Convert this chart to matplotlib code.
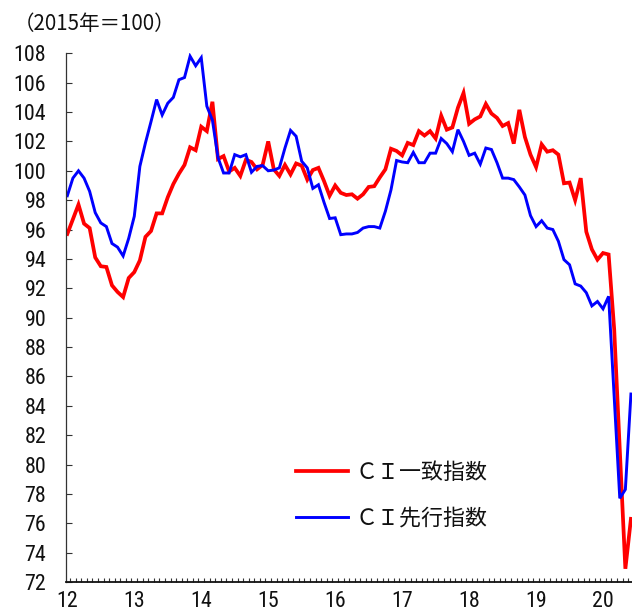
import matplotlib
matplotlib.use('Agg')
import matplotlib.pyplot as plt
from matplotlib import font_manager
from matplotlib.ticker import FixedLocator

# ---- data (monthly, Jan 2012 - Jun 2020, 2015 = 100) ----
year_labels = ['12', '13', '14', '15', '16', '17', '18', '19', '20']

ci_coincident = [
    95.7, 96.7, 97.7, 96.4, 96.1, 94.1, 93.5, 93.45, 92.2, 91.75, 91.4, 92.7,   # 2012
    93.1, 93.9, 95.5, 95.9, 97.1, 97.1, 98.2, 99.1, 99.8, 100.4, 101.6, 101.4,  # 2013
    103.0, 102.7, 104.7, 100.8, 101.0, 99.95, 100.2, 99.65, 100.75, 100.6, 100.1, 100.4,  # 2014
    102.0, 100.1, 99.65, 100.4, 99.75, 100.5, 100.35, 99.4, 100.05, 100.2, 99.3, 98.3,   # 2015
    99.0, 98.5, 98.35, 98.4, 98.1, 98.4, 98.9, 98.95, 99.55, 100.1, 101.5, 101.35,      # 2016
    101.05, 101.9, 101.75, 102.7, 102.4, 102.7, 102.2, 103.75, 102.8, 102.95, 104.3, 105.3,  # 2017
    103.2, 103.5, 103.7, 104.55, 103.9, 103.6, 103.05, 103.25, 101.85, 104.15, 102.3, 101.1,  # 2018
    100.25, 101.8, 101.3, 101.4, 101.1, 99.15, 99.2, 98.0, 99.5, 95.85, 94.65, 93.95,    # 2019
    94.4, 94.3, 89.2, 81.0, 72.9, 76.3,                                              # 2020
]

ci_leading = [
    98.3, 99.5, 100.0, 99.5, 98.6, 97.15, 96.45, 96.2, 95.05, 94.8, 94.2, 95.4,      # 2012
    96.9, 100.3, 101.9, 103.35, 104.85, 103.8, 104.6, 105.0, 106.2, 106.35, 107.8, 107.15,  # 2013
    107.7, 104.4, 103.45, 100.9, 99.85, 99.85, 101.1, 100.95, 101.1, 99.9, 100.3, 100.35,  # 2014
    100.0, 100.05, 100.2, 101.55, 102.75, 102.35, 100.65, 100.2, 98.8, 99.05, 97.85, 96.75,  # 2015
    96.8, 95.65, 95.7, 95.7, 95.8, 96.1, 96.2, 96.2, 96.1, 97.25, 98.7, 100.7,       # 2016
    100.6, 100.55, 101.25, 100.55, 100.55, 101.2, 101.2, 102.2, 101.85, 101.3, 102.8, 102.0,  # 2017
    101.05, 101.2, 100.45, 101.55, 101.45, 100.55, 99.5, 99.5, 99.4, 98.9, 98.35, 96.95,  # 2018
    96.2, 96.6, 96.1, 96.0, 95.2, 93.95, 93.6, 92.3, 92.15, 91.7, 90.8, 91.1,        # 2019
    90.6, 91.45, 84.6, 77.7, 78.3, 84.8,                                             # 2020
]

series_labels = ['ＣＩ一致指数', 'ＣＩ先行指数']
unit_label = '（2015年＝100）'

months = list(range(len(ci_coincident)))
year_pos = [12 * k for k in range(len(year_labels))]

# ---- fonts ----
names = {f.name for f in font_manager.fontManager.ttflist}
num_font, num_size = 'Liberation Sans', 15.0
for cand in ['Liberation Sans Narrow', 'Roboto Condensed', 'Open Sans Condensed']:
    if cand in names:
        num_font, num_size = cand, 15.8
        break
if num_font not in names:
    num_font = 'DejaVu Sans'
jp = ['Noto Sans CJK JP', 'DejaVu Sans']

W, H = 632, 615
fig = plt.figure(figsize=(W / 100, H / 100), dpi=100)
left_px, right_px, top_px, bottom_px = 65.7, 632, 53.3, 582
ax = fig.add_axes([left_px / W, 1 - bottom_px / H,
                   (right_px - left_px) / W, (bottom_px - top_px) / H])

ax.plot(months, ci_coincident, color='#FF0000', lw=2.7, label=series_labels[0],
        solid_joinstyle='miter')
ax.plot(months, ci_leading, color='#0000FF', lw=2.1, label=series_labels[1],
        solid_joinstyle='miter')

ax.set_xlim(-0.29, 101.19)
ax.set_ylim(72, 108)

ax.set_yticks(list(range(72, 109, 2)))
ax.xaxis.set_major_locator(FixedLocator(year_pos))
ax.set_xticklabels(year_labels)
ax.xaxis.set_minor_locator(FixedLocator([i + 0.5 for i in range(len(months) - 1)]))

ax.tick_params(axis='x', which='major', length=0, pad=6.5)
ax.tick_params(axis='x', which='minor', direction='in', length=3.2, width=0.8, color='#333333')
ax.tick_params(axis='y', direction='in', length=4.3, width=0.8, pad=14, color='#333333')

for lab in ax.get_xticklabels() + ax.get_yticklabels():
    lab.set_fontfamily(num_font)
    lab.set_fontsize(num_size)
    lab.set_color('#111111')

for s in ['top', 'right']:
    ax.spines[s].set_visible(False)
ax.spines['left'].set_linewidth(0.9)
ax.spines['left'].set_color('#333333')
ax.spines['bottom'].set_linewidth(1.3)
ax.spines['bottom'].set_color('#111111')

fig.text(14 / W, 1 - 24.5 / H, unit_label, ha='left', va='center',
         family=jp, fontsize=14.8, color='#111111')

leg = ax.legend(loc='upper left', bbox_to_anchor=(296 / W, 1 - 462 / H),
                bbox_transform=fig.transFigure, frameon=False,
                prop={'family': jp, 'size': 15.8},
                handlelength=2.35, handletextpad=0.35, labelspacing=1.08,
                borderpad=0, borderaxespad=0)
for t in leg.get_texts():
    t.set_color('#111111')

fig.savefig('out.png', dpi=100)
